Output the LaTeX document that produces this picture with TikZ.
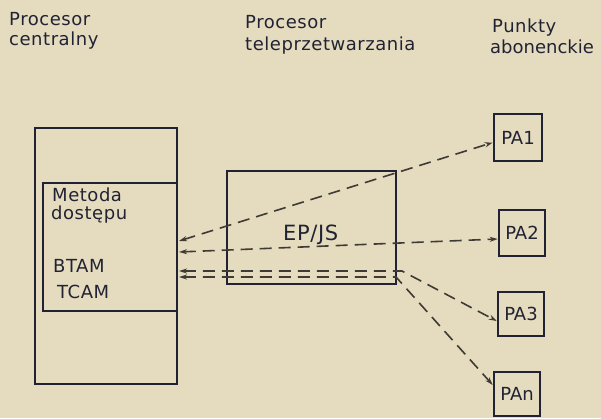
\documentclass[tikz,border=0pt]{standalone}
\usepackage{fontspec}
\setmainfont{DejaVu Sans}[LetterSpace=3]
\newfontfamily\pafont{DejaVu Sans}
\usetikzlibrary{arrows.meta}
\definecolor{paper}{RGB}{229,219,190}
\definecolor{ink}{RGB}{33,35,52}
\definecolor{dashink}{RGB}{62,58,52}
\tikzset{
  lbl/.style={anchor=base west, inner sep=0pt, text=ink, font=\fontsize{18}{22}\selectfont},
  box/.style={draw=ink, line width=2pt, inner sep=0pt},
  pabox/.style={draw=ink, line width=2.5pt, inner sep=0pt, text=ink, font=\pafont\fontsize{18}{22}\selectfont},
  link/.style={draw=dashink, line width=1.6pt, dash pattern=on 12pt off 7pt,
               {Stealth[length=8pt,width=5pt]}-{Stealth[length=8pt,width=5pt]}}
}
\begin{document}
\begin{tikzpicture}[x=1pt,y=-1pt]
\fill[paper] (0,0) rectangle (601,418);
\useasboundingbox (0,0) rectangle (601,418);
% headers
\node[lbl] (h1a) at (9,25) {Procesor};
\node[lbl] (h1b) at (9,45) {centralny};
\node[lbl] (h2a) at (245,28) {Procesor};
\node[lbl] (h2b) at (245,50) {teleprzetwarzania};
\node[lbl] (h3a) at (492,32) {Punkty};
\node[lbl, font=\pafont\fontsize{18}{22}\selectfont] (h3b) at (490,53) {abonenckie};
% boxes
\node[box, minimum width=142pt, minimum height=256pt] (cpu) at (106,256) {};
\node[box, minimum width=134pt, minimum height=128pt] (met) at (110,247) {};
\node[box, minimum width=169pt, minimum height=113pt] (ep) at (311.5,227.5) {};
\node[lbl] (t1) at (52,201) {Metoda};
\node[lbl] (t2) at (51,219) {dostępu};
\node[lbl] (t3) at (53,272) {BTAM};
\node[lbl] (t4) at (57,298) {TCAM};
\node[lbl, font=\fontsize{21}{24}\selectfont] (t5) at (283,240) {EP/JS};
\node[pabox, minimum width=48pt, minimum height=47pt] (pa1) at (518,137.5) {PA1};
\node[pabox, minimum width=46pt, minimum height=46pt] (pa2) at (522,233) {PA2};
\node[pabox, minimum width=46pt, minimum height=44pt] (pa3) at (521,314) {PA3};
\node[pabox, minimum width=46pt, minimum height=44pt] (pan) at (517,394) {PAn};
% connector ends
\coordinate (a1) at (179,241);
\coordinate (a2) at (179,252);
\coordinate (a3) at (179,271);
\coordinate (a4) at (179,277);
\coordinate (b3) at (402,271);
\coordinate (b4) at (396,277);
\draw[link] (a1) -- ([yshift=-5pt]pa1.west);
\draw[link] (a2) -- ([yshift=-6pt]pa2.west);
\draw[link] (a3) -- (b3) -- ([yshift=-7pt]pa3.west);
\draw[link] (a4) -- (b4) -- ([yshift=9pt]pan.west);
\end{tikzpicture}
\end{document}
